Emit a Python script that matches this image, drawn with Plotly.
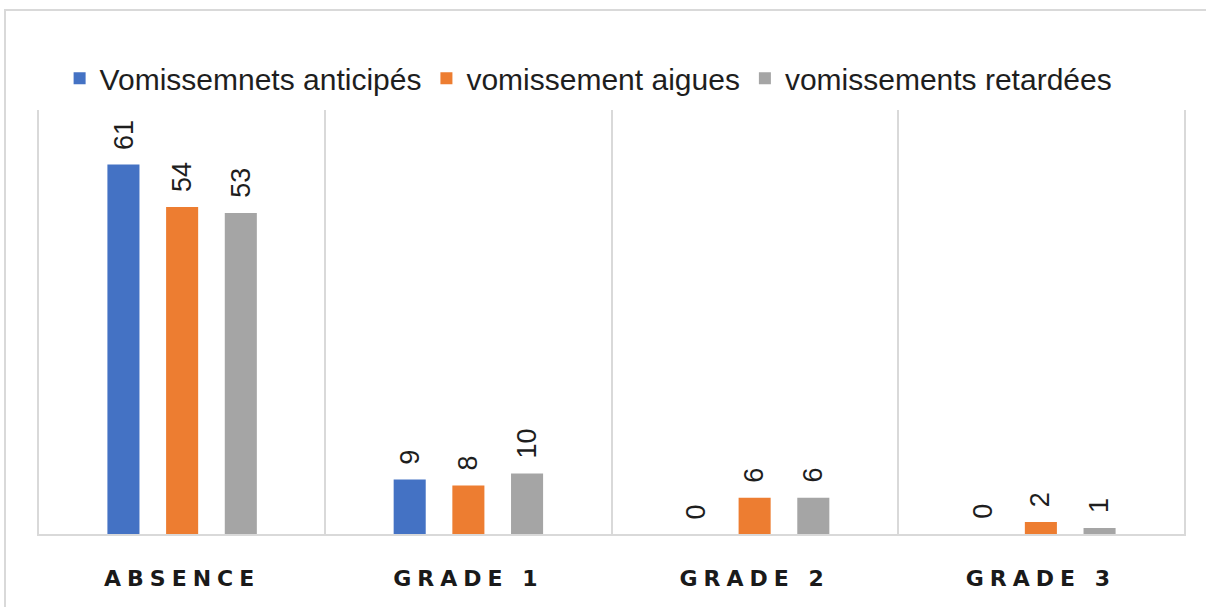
import plotly.graph_objects as go

# Données : nombre de patients par grade de vomissements
categories = ["ABSENCE", "GRADE 1", "GRADE 2", "GRADE 3"]
series_names = ["Vomissemnets anticipés", "vomissement aigues", "vomissements retardées"]
anticipes = [61, 9, 0, 0]
aigues = [54, 8, 6, 2]
retardees = [53, 10, 6, 1]

colors = ["#4472C4", "#ED7D31", "#A5A5A5"]
series = [anticipes, aigues, retardees]

bar_width = 0.112
pitch = 0.205
offsets = [-pitch - bar_width / 2, -bar_width / 2, pitch - bar_width / 2]

idx = list(range(len(categories)))

fig = go.Figure()
annotations = []
for name, vals, col, off in zip(series_names, series, colors, offsets):
    fig.add_trace(go.Bar(
        x=idx, y=vals, name=name,
        offset=off, width=bar_width,
        marker=dict(color=col, line=dict(width=0)),
        hoverinfo="skip",
    ))
    for i, v in zip(idx, vals):
        annotations.append(dict(
            x=i + off + bar_width / 2, y=v, xref="x", yref="y",
            text=str(v), showarrow=False, textangle=-90,
            yanchor="bottom", xanchor="center", yshift=13,
            font=dict(family="Liberation Sans", size=27, color="#1e1e1e"),
        ))

grid_col = "#D9D9D9"

fig.update_layout(
    width=1206, height=607,
    margin=dict(l=39, r=22, t=110, b=73),
    paper_bgcolor="white", plot_bgcolor="white",
    barmode="overlay",
    showlegend=True,
    legend=dict(
        orientation="h", x=0.018, xanchor="left", y=1.075, yanchor="middle",
        font=dict(family="Liberation Sans", size=30, color="#1e1e1e"),
        itemclick=False, itemdoubleclick=False,
        traceorder="normal",
    ),
    annotations=annotations,
    shapes=[dict(
        type="rect", xref="paper", yref="paper",
        x0=-0.0297, x1=1.05, y0=-0.3, y1=1.236,
        line=dict(color=grid_col, width=2), fillcolor="rgba(0,0,0,0)",
        layer="below",
    )],
    xaxis=dict(
        range=[-0.5, 3.5],
        tickmode="array", tickvals=idx,
        ticktext=[f'<b><span style="letter-spacing:6px">{c}</span></b>' for c in categories],
        tickfont=dict(family="DejaVu Sans", size=22, color="#1a1a1a"),
        ticks="", ticklabelstandoff=24,
        showgrid=False, zeroline=False,
        showline=True, linecolor=grid_col, linewidth=2,
        minor=dict(tickmode="linear", tick0=0.5, dtick=1, showgrid=True,
                   gridcolor=grid_col, gridwidth=2, ticks=""),
        fixedrange=True,
    ),
    yaxis=dict(
        range=[0, 70], showticklabels=False, ticks="",
        showgrid=False, zeroline=False,
        showline=True, mirror=True, linecolor=grid_col, linewidth=2,
        fixedrange=True,
    ),
)

fig.write_html("out.html")
